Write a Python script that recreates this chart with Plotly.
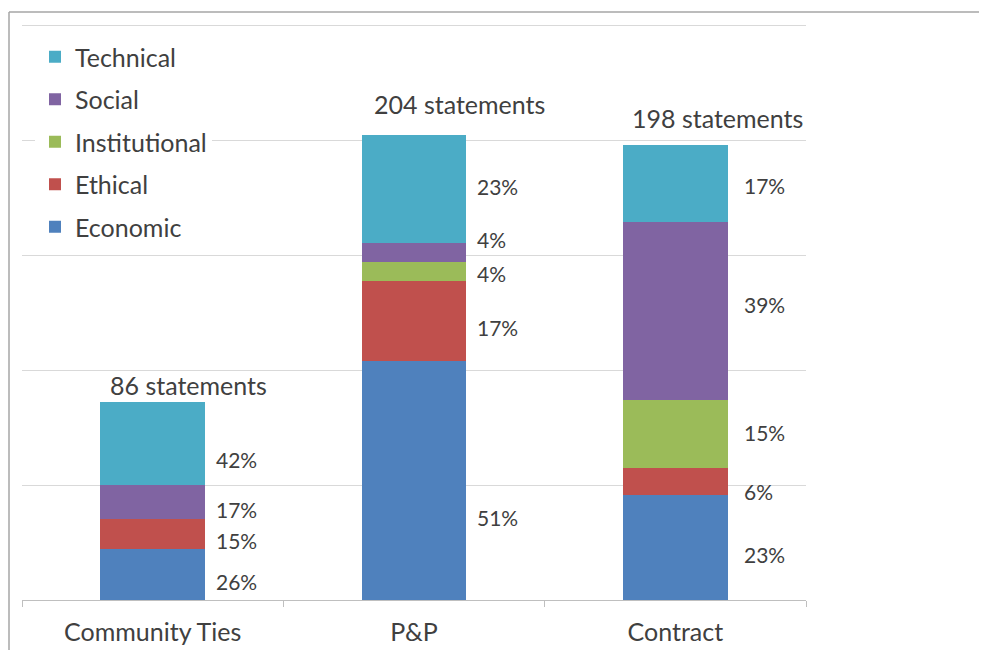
import plotly.graph_objects as go

categories = ["Community Ties", "P&P", "Contract"]
statements = [86, 204, 198]
series_names = ["Economic", "Ethical", "Institutional", "Social", "Technical"]
economic_pct = [26, 51, 23]
ethical_pct = [15, 17, 6]
institutional_pct = [0, 4, 15]
social_pct = [17, 4, 39]
technical_pct = [42, 23, 17]

pcts = [economic_pct, ethical_pct, institutional_pct, social_pct, technical_pct]
colors = ["#4F81BD", "#C0504D", "#9BBB59", "#8064A2", "#4BACC6"]

FONT = "Lato, 'Open Sans', sans-serif"
TXT = "#404040"

fig = go.Figure()
n = len(series_names)
for i, (name, pc, col) in enumerate(zip(series_names, pcts, colors)):
    yv = [s * p / 100 for s, p in zip(statements, pc)]
    fig.add_trace(go.Bar(
        x=categories, y=yv, name=name, marker=dict(color=col, line=dict(width=0)),
        legendgroup=name, legendrank=n - i, hoverinfo="skip",
    ))

annotations = []
# percentage labels next to each segment (label placement nudges, in pixels)
nudges = {
    ("P&P", "Economic"): -30, ("P&P", "Technical"): 10, ("P&P", "Social"): 20,
    ("P&P", "Institutional"): 5,
    ("Community Ties", "Technical"): -9,
    ("Contract", "Technical"): 5, ("Contract", "Social"): 13,
    ("Contract", "Institutional"): 8, ("Contract", "Ethical"): -3,
}
for ci, cat in enumerate(categories):
    base = 0.0
    for name, pc in zip(series_names, pcts):
        h = statements[ci] * pc[ci] / 100
        if pc[ci] > 0:
            annotations.append(dict(
                x=cat, y=base + h / 2, xref="x", yref="y", text=f"{pc[ci]}%",
                showarrow=False, xanchor="left", yanchor="middle",
                xshift=61 if cat != "Contract" else 67,
                yshift=-7 + nudges.get((cat, name), 0),
                font=dict(family=FONT, size=21, color=TXT),
            ))
        base += h
    annotations.append(dict(
        x=cat, y=statements[ci], xref="x", yref="y", text=f"{statements[ci]} statements",
        showarrow=False, xanchor="left", yanchor="bottom",
        xshift=-45 if cat != "P&P" else -42,
        yshift=0 if statements[ci] < 100 else 10,
        font=dict(family=FONT, size=25, color=TXT),
    ))

# page offset (browser body margin) and plot-area geometry in screen pixels
OFF = 8
W, H = 987 - OFF, 650 - OFF
PL, PR, PT, PB = 22, 806, 25, 600
def px(sx):
    return (sx - PL) / (PR - PL)
def py(sy):
    return (PB - sy) / (PB - PT)

shapes = [
    dict(type="line", xref="paper", yref="paper", x0=px(9), x1=px(9), y0=py(12), y1=py(660),
         line=dict(color="#a6a6a6", width=1.5)),
    dict(type="line", xref="paper", yref="paper", x0=px(9), x1=px(990), y0=py(12), y1=py(12),
         line=dict(color="#a6a6a6", width=1.5)),
    dict(type="line", xref="paper", yref="paper", x0=0, x1=1, y0=py(25.5), y1=py(25.5),
         line=dict(color="#d9d9d9", width=1), layer="below"),
]

fig.update_layout(
    barmode="stack",
    bargap=0.6,
    width=W, height=H,
    margin=dict(l=PL - OFF, r=987 - PR, t=PT - OFF, b=650 - PB, pad=0, autoexpand=False),
    paper_bgcolor="white", plot_bgcolor="white",
    font=dict(family=FONT, size=25, color=TXT),
    showlegend=True,
    legend=dict(
        traceorder="grouped", x=px(35), y=py(34), xanchor="left", yanchor="top",
        bgcolor="white", font=dict(family=FONT, size=25, color=TXT),
        tracegroupgap=7, itemwidth=30,
    ),
    xaxis=dict(
        showgrid=False, showline=True, linecolor="#bfbfbf", linewidth=1,
        ticks="outside", tickson="boundaries", ticklen=6, tickcolor="#bfbfbf",
        ticklabelstandoff=10, automargin=False,
        tickfont=dict(family=FONT, size=25, color=TXT), fixedrange=True,
    ),
    yaxis=dict(
        range=[0, 250], dtick=50, showgrid=True, gridcolor="#d9d9d9", gridwidth=1,
        showticklabels=False, zeroline=False, showline=False, fixedrange=True,
        automargin=False,
    ),
    annotations=annotations,
    shapes=shapes,
)

fig.write_html("out.html")
